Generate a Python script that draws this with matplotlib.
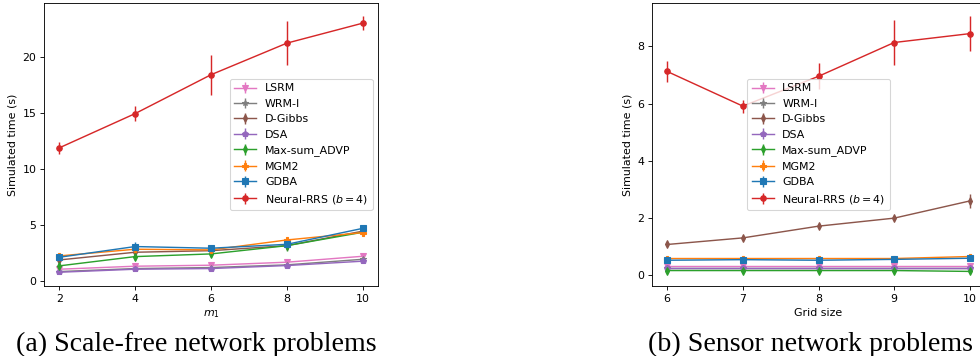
import numpy as np
import matplotlib
matplotlib.use("Agg")
import matplotlib.pyplot as plt

# x values
m1 = [2, 4, 6, 8, 10]
grid = [6, 7, 8, 9, 10]

names = ["LSRM", "WRM-I", "D-Gibbs", "DSA", "Max-sum_ADVP", "MGM2", "GDBA",
         "Neural-RRS ($b=4$)"]
colors = ["tab:pink", "tab:gray", "tab:brown", "tab:purple", "tab:green",
          "tab:orange", "tab:blue", "tab:red"]
markers = ["v", "*", "d", "p", "d", "P", "s", "o"]

# (a) scale-free network problems: mean simulated time and std
sf_lsrm = [1.04, 1.31, 1.40, 1.67, 2.20]
sf_wrm = [0.83, 1.10, 1.19, 1.43, 1.93]
sf_dgibbs = [1.87, 2.56, 2.70, 3.15, 4.45]
sf_dsa = [0.77, 1.04, 1.10, 1.37, 1.76]
sf_maxsum = [1.34, 2.17, 2.41, 3.15, 4.35]
sf_mgm2 = [2.23, 2.83, 2.77, 3.66, 4.32]
sf_gdba = [2.11, 3.07, 2.92, 3.27, 4.70]
sf_neural = [11.9, 14.97, 18.45, 21.28, 23.07]

sf_lsrm_err = [0.10, 0.12, 0.10, 0.12, 0.12]
sf_wrm_err = [0.08, 0.10, 0.10, 0.10, 0.10]
sf_dgibbs_err = [0.15, 0.15, 0.15, 0.20, 0.20]
sf_dsa_err = [0.08, 0.08, 0.08, 0.10, 0.10]
sf_maxsum_err = [0.30, 0.30, 0.30, 0.45, 0.30]
sf_mgm2_err = [0.20, 0.20, 0.20, 0.30, 0.20]
sf_gdba_err = [0.20, 0.40, 0.20, 0.20, 0.20]
sf_neural_err = [0.57, 0.65, 1.80, 2.00, 0.65]

# (b) sensor network problems
sn_lsrm = [0.32, 0.32, 0.32, 0.32, 0.32]
sn_wrm = [0.27, 0.27, 0.27, 0.27, 0.27]
sn_dgibbs = [1.08, 1.31, 1.72, 2.00, 2.60]
sn_dsa = [0.26, 0.26, 0.26, 0.26, 0.26]
sn_maxsum = [0.17, 0.17, 0.17, 0.17, 0.14]
sn_mgm2 = [0.59, 0.59, 0.59, 0.59, 0.66]
sn_gdba = [0.53, 0.55, 0.53, 0.56, 0.60]
sn_neural = [7.12, 5.91, 6.95, 8.13, 8.44]

sn_lsrm_err = [0.05, 0.05, 0.05, 0.05, 0.05]
sn_wrm_err = [0.03, 0.03, 0.03, 0.03, 0.03]
sn_dgibbs_err = [0.04, 0.04, 0.05, 0.05, 0.25]
sn_dsa_err = [0.04, 0.04, 0.04, 0.04, 0.04]
sn_maxsum_err = [0.06, 0.06, 0.06, 0.06, 0.06]
sn_mgm2_err = [0.04, 0.04, 0.04, 0.04, 0.05]
sn_gdba_err = [0.04, 0.04, 0.04, 0.04, 0.04]
sn_neural_err = [0.37, 0.23, 0.46, 0.78, 0.62]

sf_means = [sf_lsrm, sf_wrm, sf_dgibbs, sf_dsa, sf_maxsum, sf_mgm2, sf_gdba, sf_neural]
sf_errs = [sf_lsrm_err, sf_wrm_err, sf_dgibbs_err, sf_dsa_err, sf_maxsum_err,
           sf_mgm2_err, sf_gdba_err, sf_neural_err]
sn_means = [sn_lsrm, sn_wrm, sn_dgibbs, sn_dsa, sn_maxsum, sn_mgm2, sn_gdba, sn_neural]
sn_errs = [sn_lsrm_err, sn_wrm_err, sn_dgibbs_err, sn_dsa_err, sn_maxsum_err,
           sn_mgm2_err, sn_gdba_err, sn_neural_err]

DPI = 79
fig = plt.figure(figsize=(980 / DPI, 356 / DPI), dpi=DPI)

ax1 = fig.add_axes([44 / 980, 70 / 356, 334 / 980, 283 / 356])
ax2 = fig.add_axes([652 / 980, 70 / 356, 333 / 980, 283 / 356])


def draw(ax, x, means, errs, loc):
    for name, c, mk, y, e in zip(names, colors, markers, means, errs):
        ax.errorbar(x, y, yerr=e, color=c, marker=mk, markersize=5,
                    linewidth=1.3, label=name)
    ax.set_ylabel("Simulated time (s)")
    ax.legend(loc=loc)


draw(ax1, m1, sf_means, sf_errs, "center right")
ax1.set_xlabel("$m_1$")
ax1.set_xticks(m1)

draw(ax2, grid, sn_means, sn_errs, "center")
ax2.set_xlabel("Grid size")
ax2.set_xticks(grid)

fig.text(196 / 980, 1 - 351 / 356, "(a) Scale-free network problems",
         family="Liberation Serif", fontsize=25.4, ha="center", va="baseline")
fig.text(811 / 980, 1 - 351 / 356, "(b) Sensor network problems",
         family="Liberation Serif", fontsize=25.4, ha="center", va="baseline")

fig.savefig("out.png", dpi=DPI)
